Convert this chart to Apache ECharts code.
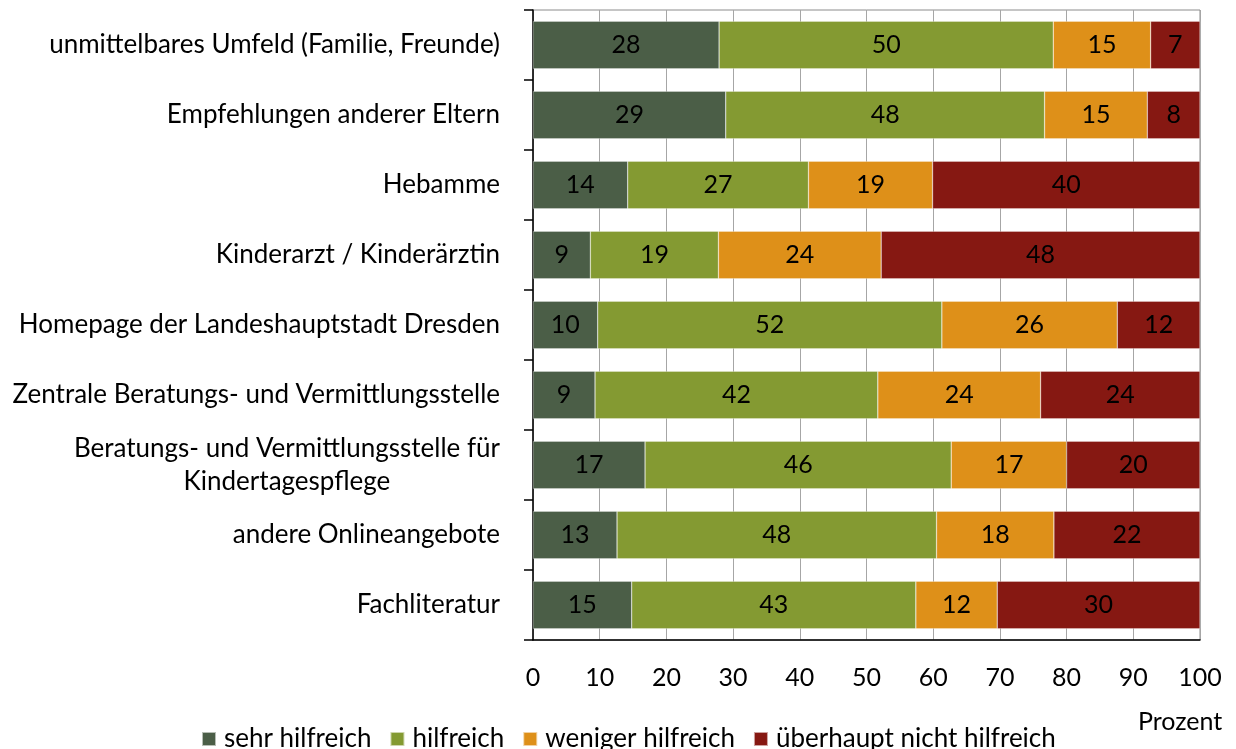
<!DOCTYPE html>
<html>
<head>
<meta charset="utf-8">
<script src="https://cdn.jsdelivr.net/npm/echarts@6/dist/echarts.min.js"></script>
<style>
  html, body { margin: 0; padding: 0; background: #fff; }
  #chart { width: 1236px; height: 749px; }
</style>
</head>
<body>
<div id="chart"></div>
<script>
// categories, top to bottom
const categories = [
  "unmittelbares Umfeld (Familie, Freunde)",
  "Empfehlungen anderer Eltern",
  "Hebamme",
  "Kinderarzt / Kinderärztin",
  "Homepage der Landeshauptstadt Dresden",
  "Zentrale Beratungs- und Vermittlungsstelle",
  "Beratungs- und Vermittlungsstelle für\nKindertagespflege",
  "andere Onlineangebote",
  "Fachliteratur"
];

const seriesNames = ["sehr hilfreich", "hilfreich", "weniger hilfreich", "überhaupt nicht hilfreich"];

// percent values (labels show rounded numbers)
const sehrHilfreich = [27.9, 28.9, 14.2, 8.6, 9.7, 9.3, 16.8, 12.6, 14.8];
const hilfreich = [50.1, 47.8, 27.1, 19.2, 51.6, 42.4, 45.9, 47.9, 42.6];
const wenigerHilfreich = [14.6, 15.4, 18.6, 24.4, 26.3, 24.4, 17.3, 17.6, 12.2];
const nichtHilfreich = [7.4, 7.9, 40.1, 47.8, 12.4, 23.9, 20.0, 21.9, 30.4];

const xTicks = [0, 100, 10]; // min, max, interval

const colors = ["#4b5e47", "#849a32", "#de9019", "#861812"];
const FONT = "Lato";

let myChart = echarts.init(document.getElementById("chart"));

const values = [sehrHilfreich, hilfreich, wenigerHilfreich, nichtHilfreich];

myChart.setOption({
  animation: false,
  color: colors,
  textStyle: { fontFamily: FONT },
  grid: {
    left: 533,
    right: 36,
    top: 10,
    bottom: 109,
    show: true,
    borderColor: "#8c8c8c",
    borderWidth: 1
  },
  legend: {
    left: 196,
    top: 721,
    itemWidth: 14,
    itemHeight: 14,
    itemGap: 18,
    icon: "rect",
    textStyle: { fontFamily: FONT, fontSize: 26, color: "#000", padding: [0, 0, 0, 3] },
    data: seriesNames
  },
  graphic: [
    {
      type: "text",
      left: 1138,
      top: 709,
      style: { text: "Prozent", font: "25px " + FONT, fill: "#000" }
    }
  ],
  xAxis: {
    type: "value",
    min: xTicks[0],
    max: xTicks[1],
    interval: xTicks[2],
    axisLine: { show: true, lineStyle: { color: "#000", width: 1.5 } },
    axisTick: { show: false },
    axisLabel: { color: "#000", fontSize: 25, fontFamily: FONT, margin: 25 },
    splitLine: { show: true, lineStyle: { color: "#a6a6a6", width: 1 } }
  },
  yAxis: {
    type: "category",
    inverse: true,
    data: categories,
    axisLine: { show: true, lineStyle: { color: "#000", width: 1.5 } },
    axisTick: { show: true, length: 9, lineStyle: { color: "#000", width: 1.5 } },
    axisLabel: {
      color: "#000",
      fontSize: 26,
      fontFamily: FONT,
      margin: 33,
      lineHeight: 33,
      formatter: function (v) {
        return v.split("\n").map(function (s) { return "{c|" + s + "}"; }).join("\n");
      },
      rich: {
        c: { align: "center", fontSize: 26, fontFamily: FONT, color: "#000", lineHeight: 33 }
      }
    }
  },
  series: seriesNames.map(function (name, i) {
    return {
      name: name,
      type: "bar",
      stack: "total",
      barWidth: "68%",
      data: values[i],
      itemStyle: { borderColor: "rgba(255,255,255,0.6)", borderWidth: 0.5 },
      label: {
        show: true,
        position: "inside",
        color: "#000",
        fontSize: 25,
        fontFamily: FONT,
        formatter: function (p) { return Math.round(p.value); }
      }
    };
  })
});
</script>
</body>
</html>
